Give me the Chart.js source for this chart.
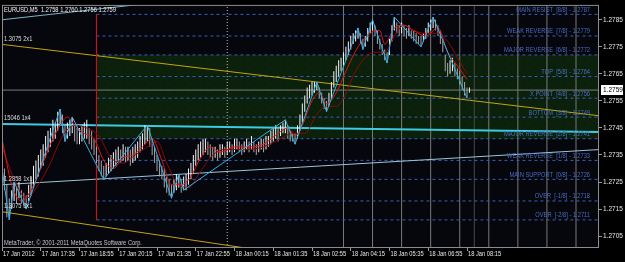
<!DOCTYPE html>
<html>
<head>
<meta charset="utf-8">
<script src="https://cdn.jsdelivr.net/npm/chart.js@4.4.1/dist/chart.umd.min.js"></script>
<style>
  html, body { margin: 0; padding: 0; background: #000; }
  canvas { display: block; }
</style>
</head>
<body>
<canvas id="chart" width="625" height="262"></canvas>
<script>
// EURUSD M5, 17-18 Jan 2012. Bar index 0 = 17 Jan 16:15, one bar per 5 minutes.
const barLow = [
  1.2724, 1.2722, 1.2712, 1.2711, 1.2715, 1.2718, 1.2717, 1.2719, 1.2717, 1.2716,
  1.2715, 1.2718, 1.2720, 1.2723, 1.2726, 1.2727, 1.2730, 1.2731, 1.2734, 1.2736,
  1.2738, 1.2740, 1.2741, 1.2744, 1.2746, 1.2743, 1.2740, 1.2741, 1.2742, 1.2743,
  1.2740, 1.2739, 1.2739, 1.2740, 1.2741, 1.2741, 1.2739, 1.2737, 1.2735, 1.2732,
  1.2729, 1.2727, 1.2726, 1.2727, 1.2728, 1.2729, 1.2730, 1.2731, 1.2733, 1.2732,
  1.2733, 1.2732, 1.2733, 1.2731, 1.2732, 1.2733, 1.2734, 1.2736, 1.2737, 1.2739,
  1.2740, 1.2738, 1.2735, 1.2732, 1.2729, 1.2727, 1.2726, 1.2723, 1.2721, 1.2720,
  1.2719, 1.2721, 1.2722, 1.2723, 1.2721, 1.2722, 1.2722, 1.2724, 1.2726, 1.2728,
  1.2731, 1.2733, 1.2734, 1.2735, 1.2736, 1.2735, 1.2734, 1.2733, 1.2734, 1.2733,
  1.2734, 1.2735, 1.2734, 1.2735, 1.2736, 1.2735, 1.2736, 1.2737, 1.2736, 1.2735,
  1.2736, 1.2737, 1.2736, 1.2737, 1.2736, 1.2735, 1.2736, 1.2737, 1.2736, 1.2737,
  1.2738, 1.2739, 1.2740, 1.2741, 1.2740, 1.2742, 1.2743, 1.2743, 1.2741, 1.2740,
  1.2740, 1.2739, 1.2741, 1.2744, 1.2747, 1.2751, 1.2754, 1.2756, 1.2757, 1.2758,
  1.2759, 1.2756, 1.2754, 1.2752, 1.2751, 1.2753, 1.2756, 1.2760, 1.2762, 1.2764,
  1.2766, 1.2768, 1.2770, 1.2772, 1.2774, 1.2776, 1.2777, 1.2778, 1.2776, 1.2774,
  1.2775, 1.2777, 1.2780, 1.2781, 1.2779, 1.2776, 1.2774, 1.2772, 1.2770, 1.2769,
  1.2772, 1.2777, 1.2781, 1.2780, 1.2779, 1.2780, 1.2779, 1.2778, 1.2779, 1.2778,
  1.2777, 1.2776, 1.2776, 1.2775, 1.2777, 1.2778, 1.2780, 1.2781, 1.2782, 1.2781,
  1.2779, 1.2776, 1.2773, 1.2766, 1.2764, 1.2765, 1.2766, 1.2764, 1.2763, 1.2761,
  1.2759, 1.2757, 1.2756, 1.2758
];
const barHigh = [
  1.2735, 1.2730, 1.2724, 1.2719, 1.2722, 1.2725, 1.2723, 1.2725, 1.2722, 1.2721,
  1.2720, 1.2724, 1.2727, 1.2731, 1.2733, 1.2735, 1.2737, 1.2739, 1.2742, 1.2744,
  1.2745, 1.2748, 1.2747, 1.2751, 1.2752, 1.2750, 1.2746, 1.2747, 1.2748, 1.2749,
  1.2746, 1.2745, 1.2745, 1.2746, 1.2747, 1.2748, 1.2745, 1.2744, 1.2741, 1.2738,
  1.2735, 1.2733, 1.2731, 1.2732, 1.2734, 1.2735, 1.2736, 1.2737, 1.2738, 1.2737,
  1.2739, 1.2738, 1.2738, 1.2737, 1.2738, 1.2739, 1.2740, 1.2742, 1.2743, 1.2746,
  1.2746, 1.2745, 1.2741, 1.2738, 1.2735, 1.2733, 1.2731, 1.2730, 1.2727, 1.2726,
  1.2724, 1.2726, 1.2728, 1.2728, 1.2726, 1.2727, 1.2728, 1.2730, 1.2732, 1.2735,
  1.2737, 1.2739, 1.2740, 1.2741, 1.2741, 1.2740, 1.2739, 1.2738, 1.2738, 1.2737,
  1.2739, 1.2739, 1.2738, 1.2740, 1.2740, 1.2739, 1.2741, 1.2741, 1.2740, 1.2739,
  1.2740, 1.2741, 1.2740, 1.2742, 1.2740, 1.2739, 1.2740, 1.2741, 1.2741, 1.2742,
  1.2742, 1.2744, 1.2745, 1.2746, 1.2745, 1.2746, 1.2747, 1.2748, 1.2746, 1.2744,
  1.2743, 1.2743, 1.2746, 1.2750, 1.2754, 1.2757, 1.2760, 1.2761, 1.2762, 1.2762,
  1.2762, 1.2760, 1.2758, 1.2756, 1.2755, 1.2758, 1.2762, 1.2766, 1.2768, 1.2770,
  1.2771, 1.2773, 1.2775, 1.2777, 1.2779, 1.2780, 1.2781, 1.2782, 1.2780, 1.2778,
  1.2779, 1.2782, 1.2784, 1.2785, 1.2783, 1.2781, 1.2778, 1.2776, 1.2774, 1.2773,
  1.2778, 1.2783, 1.2786, 1.2784, 1.2783, 1.2784, 1.2783, 1.2782, 1.2783, 1.2781,
  1.2781, 1.2780, 1.2779, 1.2779, 1.2780, 1.2782, 1.2784, 1.2785, 1.2786, 1.2785,
  1.2783, 1.2781, 1.2778, 1.2772, 1.2769, 1.2770, 1.2771, 1.2769, 1.2767, 1.2766,
  1.2764, 1.2762, 1.2760, 1.2760
];

// Moving averages and zigzag, as [bar index, price].
const fastMA = [
  [0, 1.2741], [4, 1.2724], [8, 1.2718], [12, 1.2722], [16, 1.2730], [20, 1.2739], [24, 1.2746],
  [27, 1.2749], [30, 1.2746], [34, 1.2743], [38, 1.2741], [42, 1.2733], [46, 1.2730], [50, 1.2734],
  [54, 1.2735], [58, 1.2738], [62, 1.2741], [66, 1.2733], [70, 1.2724], [74, 1.2724], [78, 1.2727],
  [82, 1.2734], [86, 1.2738], [90, 1.2736], [96, 1.2738], [102, 1.2738], [108, 1.2739], [114, 1.2743],
  [118, 1.2745], [121, 1.2742], [124, 1.2746], [128, 1.2755], [131, 1.2758], [134, 1.2754], [138, 1.2758],
  [142, 1.2766], [147, 1.2775], [151, 1.2779], [154, 1.2781], [156, 1.2781], [158, 1.2776], [162, 1.2782],
  [166, 1.2783], [170, 1.2781], [175, 1.2779], [180, 1.2782], [184, 1.2773], [188, 1.2768], [192, 1.2763]
];
const slowMA = [
  [0, 1.2738], [5, 1.2726], [10, 1.2719], [15, 1.2724], [20, 1.2732], [25, 1.2742], [30, 1.2746],
  [35, 1.2745], [40, 1.2742], [45, 1.2734], [50, 1.2732], [55, 1.2735], [60, 1.2738], [64, 1.2740],
  [68, 1.2732], [72, 1.2725], [77, 1.2723], [82, 1.2729], [87, 1.2735], [92, 1.2737], [100, 1.2737],
  [108, 1.2738], [115, 1.2741], [120, 1.2743], [125, 1.2743], [130, 1.2750], [134, 1.2753], [138, 1.2753],
  [141, 1.2756], [146, 1.2766], [150, 1.2771], [154, 1.2773], [158, 1.2773], [162, 1.2779], [166, 1.2783],
  [170, 1.2781], [175, 1.2780], [180, 1.2780], [184, 1.2777], [188, 1.2771], [192, 1.2765]
];
const zigzag = [
  [0, 1.2730], [3, 1.2711], [5, 1.2725], [10, 1.2715], [24, 1.2752], [26, 1.2740], [29, 1.2749],
  [42, 1.2726], [60, 1.2746], [70, 1.2719], [73, 1.2728], [75, 1.2722], [117, 1.2748], [121, 1.2739],
  [130, 1.2762], [134, 1.2751], [147, 1.2782], [149, 1.2774], [153, 1.2785], [159, 1.2769],
  [162, 1.2786], [173, 1.2775], [178, 1.2786], [192, 1.2756]
];

// Gann lines, two points each.
const gann2x1 = [[0, 1.27759], [246.5, 1.27495]];
const gann3x1 = [[0, 1.27140], [120, 1.26980]];
const gann1x4 = [[0, 1.27465], [246.5, 1.27435]];
const gann1x1 = [[0, 1.27240], [246.5, 1.27370]];
const gannTop = [[0, 1.27850], [60, 1.27910]];
const gannLabels = ['1.3075 2x1', '1.3075 3x1', '15046 1x4', '1.2858 1x1'];

// Murrey Math levels, from bar 39 onwards.
const murreyLevels = [1.2787, 1.2779, 1.2772, 1.2764, 1.2756, 1.2749, 1.2741, 1.2733, 1.2726, 1.2718, 1.2711];
const murreyNames = [
  'MAIN RESIST  [8/8]', 'WEAK REVERSE  [7/8]', 'MAJOR REVERSE  [6/8]', 'TOP  [5/8]',
  'X POINT  [4/8]', 'BOTTOM  [3/8]', 'MAJOR REVERSE  [2/8]', 'WEAK REVERSE  [1/8]',
  'MAIN SUPPORT  [0/8]', 'OVER  [-1/8]', 'OVER  [-2/8]'
];
const murreyStart = 39;
const murreyLabelAt = 242.8;

const hourLines = [141, 153, 165, 177, 189, 201, 213, 225, 237];
const daySeparator = [93];
const shiftLine = [195];
const bidPrice = 1.2759;

const timeTickIdx = [0, 16, 32, 48, 64, 80, 96, 112, 128, 144, 160, 176, 192];
const timeLabels = [
  '17 Jan 2012', '17 Jan 17:35', '17 Jan 18:55', '17 Jan 20:15', '17 Jan 21:35', '17 Jan 22:55',
  '18 Jan 00:15', '18 Jan 01:35', '18 Jan 02:55', '18 Jan 04:15', '18 Jan 05:35', '18 Jan 06:55', '18 Jan 08:15'
];
const priceTicks = [1.2705, 1.2715, 1.2725, 1.2735, 1.2745, 1.2755, 1.2765, 1.2775, 1.2785];
const priceMin = 1.27006;
const priceMax = 1.27905;
const viewStart = 0;
const viewEnd = 246.5;

const quote = 'EURUSD,M5  1.2758 1.2760 1.2756 1.2759';
const copyright = 'MetaTrader, \u00a9 2001-2011 MetaQuotes Software Corp.';

Chart.defaults.font.family = "'Liberation Sans', Arial, sans-serif";

const toPoints = pairs => pairs.map(([x, y]) => ({ x, y }));

// Vertical lines broken by nulls so one dataset can hold several.
function verticals(list) {
  const pts = [];
  list.forEach(x => pts.push({ x, y: priceMin }, { x, y: priceMax }, { x, y: null }));
  return pts;
}

function horizontals(levels, x0, x1) {
  const pts = [];
  levels.forEach(v => pts.push({ x: x0, y: v }, { x: x1, y: v }, { x: x1, y: null }));
  return pts;
}

// Dark green fill with the little dot texture.
function zonePattern() {
  const c = document.createElement('canvas');
  c.width = 10;
  c.height = 8;
  const g = c.getContext('2d');
  g.fillStyle = '#0b210b';
  g.fillRect(0, 0, 10, 8);
  g.fillStyle = '#021002';
  g.fillRect(4, 3, 1, 1);
  return g.createPattern(c, 'repeat');
}

function squeezeText(ctx, text, x, y, align, color, baseline = 'bottom') {
  ctx.save();
  ctx.font = "7px 'Liberation Sans', Arial, sans-serif";
  ctx.fillStyle = color;
  ctx.textAlign = align;
  ctx.textBaseline = baseline;
  ctx.translate(x, y);
  ctx.scale(0.82, 1);
  ctx.fillText(text, 0, 0);
  ctx.restore();
}

const barPoints = barLow.map((lo, i) => ({ x: i, y: [lo, barHigh[i]] }));
const barColors = barLow.map((lo, i) =>
  i === 0 || lo + barHigh[i] >= barLow[i - 1] + barHigh[i - 1] ? '#f4f4f4' : '#a8a8a8');

function line(data, color, width, order, extra = {}) {
  return Object.assign({
    type: 'line', data, borderColor: color, borderWidth: width,
    pointRadius: 0, fill: false, order, spanGaps: false
  }, extra);
}

const overlay = {
  id: 'overlay',
  beforeDraw(chart) {
    const { ctx, chartArea: a } = chart;
    ctx.save();
    ctx.fillStyle = '#000';
    ctx.fillRect(0, 0, chart.width, chart.height);
    ctx.fillStyle = '#06060d';
    ctx.fillRect(a.left, a.top, a.width, a.height);
    ctx.restore();
  },
  afterDatasetsDraw(chart) {
    const { ctx, chartArea: a, scales: { x, y } } = chart;
    ctx.save();
    ctx.strokeStyle = '#8c8c8c';
    ctx.lineWidth = 1;
    ctx.strokeRect(a.left + 0.5, a.top + 0.5, a.width - 1, a.height - 1);
    ctx.restore();

    murreyLevels.forEach((lv, i) => {
      squeezeText(ctx, `${murreyNames[i]} - ${lv.toFixed(4)}`,
        x.getPixelForValue(murreyLabelAt), y.getPixelForValue(lv) - 1, 'right', '#4a6cc2');
    });

    [gann2x1, gann3x1, gann1x4, gann1x1].forEach((g, i) => {
      squeezeText(ctx, gannLabels[i], a.left + 2, y.getPixelForValue(g[0][1]) - 2, 'left', '#dcdcdc');
    });

    squeezeText(ctx, quote, a.left + 2, a.top + 9, 'left', '#f2f2f2');
    squeezeText(ctx, copyright, a.left + 2, a.bottom - 1, 'left', '#c8c8c8');

    // time labels start just right of their tick
    timeTickIdx.forEach((v, i) => {
      squeezeText(ctx, timeLabels[i], x.getPixelForValue(v) + 1, a.bottom + 3, 'left', '#e6e6e6', 'top');
    });
  },
  afterDraw(chart) {
    const { ctx, chartArea: a, scales: { y } } = chart;
    const py = Math.round(y.getPixelForValue(bidPrice));
    ctx.save();
    ctx.fillStyle = '#ffffff';
    ctx.fillRect(a.right + 2, py - 5, 22, 10);
    ctx.fillStyle = '#000000';
    ctx.font = "6.5px 'Liberation Sans', Arial, sans-serif";
    ctx.textBaseline = 'middle';
    ctx.textAlign = 'left';
    ctx.fillText(bidPrice.toFixed(4), a.right + 4, py);
    ctx.restore();
  }
};

new Chart(document.getElementById('chart'), {
  type: 'line',
  data: {
    datasets: [
      line(toPoints(zigzag), '#34aee6', 1, 1),
      line(toPoints(fastMA), '#e01414', 1, 2, { cubicInterpolationMode: 'monotone' }),
      line(toPoints(slowMA), '#8e0606', 1, 3, { cubicInterpolationMode: 'monotone' }),
      {
        type: 'bar', data: barPoints, backgroundColor: barColors,
        barThickness: 1, borderWidth: 0, inflateAmount: 0, order: 4
      },
      line([{ x: murreyStart, y: murreyLevels[0] }, { x: murreyStart, y: murreyLevels[10] }], '#d41010', 1, 5),
      line(toPoints(gann2x1), '#c4a412', 1, 6),
      line(toPoints(gann3x1), '#c4a412', 1, 6),
      line(toPoints(gann1x4), '#3ccbe0', 2, 6),
      line(toPoints(gann1x1), '#9cc4d6', 1, 6),
      line(toPoints(gannTop), '#7cb4c8', 1, 6),
      line([{ x: viewStart, y: bidPrice }, { x: viewEnd, y: bidPrice }], '#7c7c7c', 1, 7),
      line(horizontals(murreyLevels, murreyStart, viewEnd), '#3a60b8', 1, 8, { borderDash: [3, 3] }),
      line(verticals(hourLines), '#7a7a7a', 1, 9),
      line(verticals(daySeparator), '#bcbcbc', 1, 9, { borderDash: [1, 2] }),
      line(verticals(shiftLine), '#4a4a4a', 1, 9),
      line([{ x: murreyStart, y: murreyLevels[2] }, { x: viewEnd, y: murreyLevels[2] }], 'rgba(0,0,0,0)', 0, 20,
        { fill: { value: murreyLevels[6] }, backgroundColor: zonePattern() })
    ]
  },
  options: {
    responsive: false,
    animation: false,
    events: [],
    layout: { padding: { left: 2, top: 1, right: 0, bottom: 0 } },
    plugins: { legend: { display: false }, tooltip: { enabled: false } },
    scales: {
      x: {
        type: 'linear',
        min: viewStart,
        max: viewEnd,
        offset: false,
        afterBuildTicks: s => { s.ticks = timeTickIdx.map(v => ({ value: v })); },
        afterFit: s => { s.height = 14; },
        grid: { offset: false, drawOnChartArea: false, tickLength: 3, color: '#9a9a9a' },
        border: { display: false },
        ticks: { display: false }
      },
      y: {
        position: 'right',
        min: priceMin,
        max: priceMax,
        beginAtZero: false,
        afterBuildTicks: s => { s.ticks = priceTicks.map(v => ({ value: v })); },
        afterFit: s => { s.width = 26; },
        grid: { drawOnChartArea: false, tickLength: 3, color: '#9a9a9a' },
        border: { display: false },
        ticks: {
          autoSkip: false, padding: 1, color: '#e6e6e6', font: { size: 6.5 },
          callback: v => v.toFixed(4)
        }
      }
    }
  },
  plugins: [overlay]
});
</script>
</body>
</html>
